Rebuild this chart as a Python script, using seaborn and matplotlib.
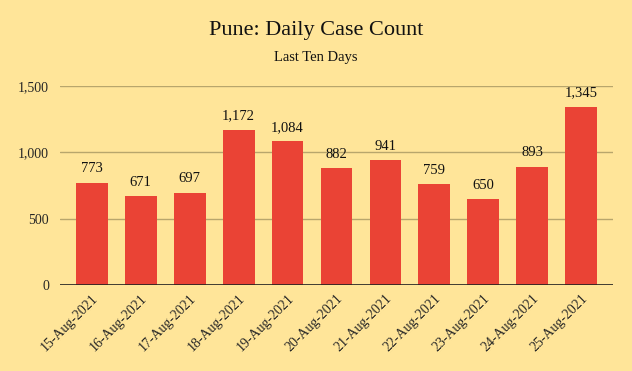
import matplotlib
matplotlib.use("Agg")
import matplotlib.pyplot as plt
import seaborn as sns
import pandas as pd

dates = ["15-Aug-2021", "16-Aug-2021", "17-Aug-2021", "18-Aug-2021", "19-Aug-2021",
         "20-Aug-2021", "21-Aug-2021", "22-Aug-2021", "23-Aug-2021", "24-Aug-2021",
         "25-Aug-2021"]
cases = [773, 671, 697, 1172, 1084, 882, 941, 759, 650, 893, 1345]
yticks = [0, 500, 1000, 1500]

bg = "#FFE599"
bar_color = "#EA4335"

sns.set_theme(style="white")
plt.rcParams["font.family"] = ["Liberation Serif", "DejaVu Serif"]

df = pd.DataFrame({"date": dates, "cases": cases})

W, H = 632, 371
fig = plt.figure(figsize=(W / 100, H / 100), dpi=100, facecolor=bg)
ax = fig.add_axes([60 / W, 1 - 285.3 / H, (613 - 60) / W, (285.3 - 86) / H])
ax.set_facecolor(bg)

sns.barplot(data=df, x="date", y="cases", color=bar_color, width=0.65,
            saturation=1, linewidth=0, edgecolor="none", ax=ax, zorder=3)

ax.set_ylim(0, 1500)
ax.set_xlim(-0.65, 10.65)
ax.set_yticks(yticks)
ax.set_yticklabels(["{:,}".format(v) for v in yticks], fontsize=10)
ax.yaxis.grid(True, color="#B8A66C", lw=1, zorder=0)
ax.axhline(0, color="#222222", lw=1.2, zorder=4)
for s in ax.spines.values():
    s.set_visible(False)
ax.tick_params(axis="y", length=0, pad=8)
ax.tick_params(axis="x", length=0, pad=5)
plt.setp(ax.get_xticklabels(), rotation=45, ha="right", rotation_mode="anchor", fontsize=10)
ax.set_xlabel("")
ax.set_ylabel("")

for i, v in enumerate(cases):
    ax.text(i, v + 55, "{:,}".format(v), ha="center", va="bottom", fontsize=10.5,
            color="#111111", clip_on=False)

fig.text(0.5, 1 - 31 / H, "Pune: Daily Case Count", ha="center", va="center",
         fontsize=16, color="#111111")
fig.text(0.5, 1 - 58 / H, "Last Ten Days", ha="center", va="center",
         fontsize=10.5, color="#111111")

fig.savefig("out.png", dpi=100, facecolor=bg)
